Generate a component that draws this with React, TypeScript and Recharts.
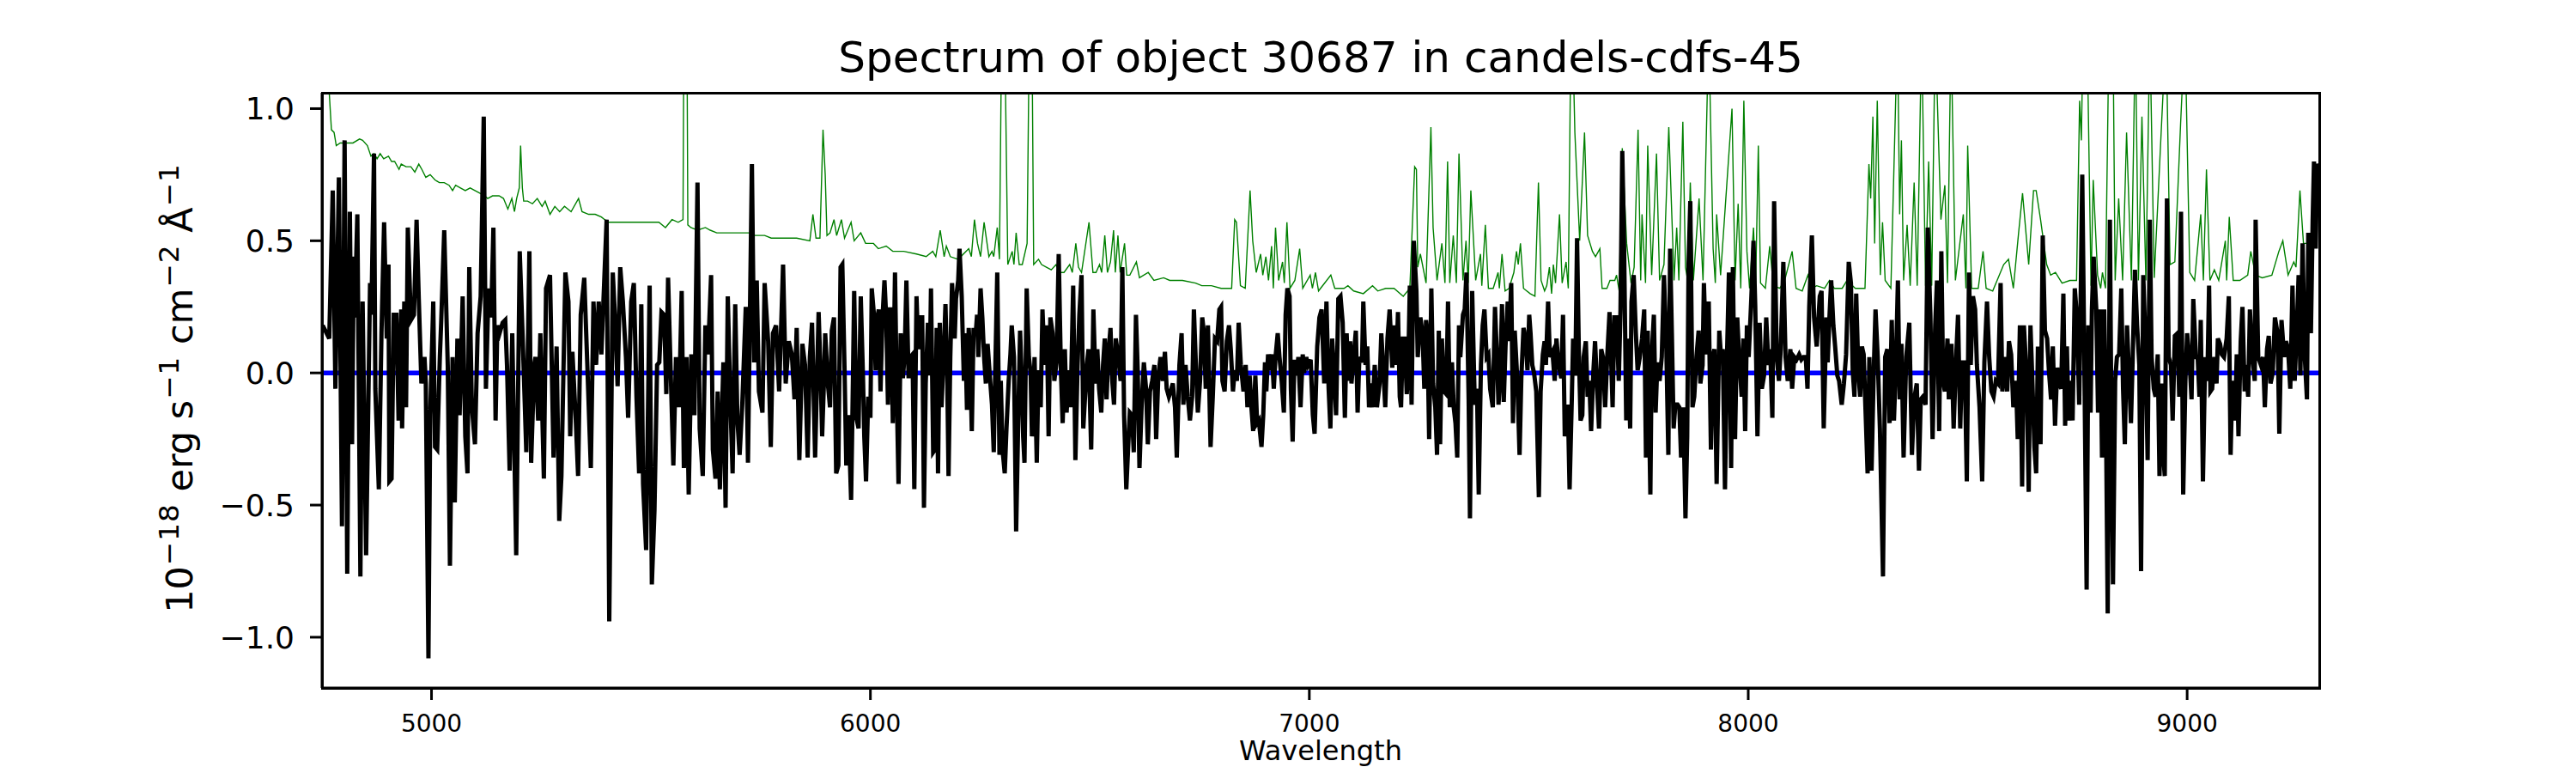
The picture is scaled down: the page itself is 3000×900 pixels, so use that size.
import React from "react";
import { LineChart, Line, XAxis, YAxis, ReferenceLine } from "recharts";

type Pt = [number, number];

// object flux, 10^-18 erg/s/cm2/A, [wavelength, value] in four stretches
const flux4750: Pt[] = [
  [4752,0.18],[4767,0.13],[4775,0.69],[4781,-0.06],[4789,0.74],[4796,-0.58],[4802,0.88],[4808,-0.76],[4814,0.61],[4819,-0.27],
  [4823,0.44],[4825,0.21],[4831,0.6],[4838,-0.77],[4843,0.27],[4851,-0.69],[4860,0.34],[4863,0.22],[4869,0.83],[4872,-0.06],
  [4880,-0.44],[4886,0.15],[4892,0.57],[4898,0.13],[4902,0.41],[4904,-0.41],[4909,-0.4],[4914,0.22],[4920,0.22],[4925,-0.18],
  [4931,0.24],[4933,-0.21],[4938,0.27],[4942,-0.13],[4946,0.55],[4953,0.2],[4960,0.22],[4966,0.58],[4971,0.28],[4977,-0.04],
  [4984,0.06],[4987,-0.04],[4993,-1.08],[4997,-0.16],[5004,0.27],[5008,-0.28],[5013,-0.29],[5019,0.06],[5022,0.19],[5029,0.54],
  [5037,0.03],[5042,-0.73],[5048,0.06],[5053,-0.49],[5059,0.13],[5064,-0.16],[5071,0.29],[5077,-0.24],[5082,-0.38],[5086,0.4],
  [5092,-0.13],[5099,-0.27],[5105,0.15],[5112,0.29],[5119,0.97],[5124,-0.06],[5130,0.32],[5136,0.21],[5141,0.55],[5146,-0.18],
  [5150,0.18],[5155,0.15],[5162,0.19],[5168,0.2],[5172,0.03],[5178,-0.37],[5184,0.15],[5193,-0.69],[5201,0.46],[5208,0.12],
  [5216,-0.3],[5223,0.46],[5227,-0.34],[5234,0.03],[5237,0.06],[5243,-0.18],[5248,0.15],[5256,-0.4],[5261,0.32],[5270,0.37],
  [5278,-0.32],[5285,0.1],[5291,-0.56],[5296,-0.39],[5305,0.38],[5312,0.27],[5316,-0.24],[5321,0.08],[5329,-0.19],[5334,-0.39],
  [5340,0.22],[5348,0.36],[5355,0.03],[5363,-0.36],[5369,0.27],[5375,0.03],[5381,0.27],[5387,0.07],[5399,0.58],[5405,-0.94],
  [5413,0.38],[5419,0.18],[5424,-0.05],[5430,0.4],[5436,0.27],[5443,0.06],[5448,-0.17],[5455,0.27],[5461,0.34],[5467,-0.09],
  [5473,-0.38],[5478,0.26],[5482,-0.42],[5489,-0.67],[5497,0.33],[5502,-0.8],[5508,-0.52],[5514,0.03],[5519,0.04],[5524,0.23],
  [5530,0.22],[5535,-0.08],[5539,0.36],[5544,0.06],[5551,-0.35],[5557,0.06],[5564,-0.13],[5570,0.31],[5575,-0.36],[5581,0.06],
  [5586,-0.46],[5592,0.07],[5599,-0.16],[5606,0.72],[5611,-0.21],[5618,-0.39],[5624,0.18],[5630,0.07],[5637,0.37],[5641,-0.29],
  [5647,-0.4],[5652,-0.07],[5657,-0.44],[5665,0.04],[5670,-0.51],[5675,0.29],[5681,-0.11],[5686,-0.38],[5692,0.26],[5697,-0.18],
  [5702,-0.31],[5708,-0.12],[5716,0.25],[5721,-0.34],[5730,0.79],[5735,0.04],[5741,0.35],[5746,-0.07],[5754,-0.15],[5759,0.34],
  [5767,0.12],[5773,-0.28],[5778,0.15],[5785,0.18],[5792,-0.07],[5801,0.41],[5807,-0.04],[5814,0.12],[5821,0.07],[5827,-0.1],
  [5832,0.17],[5838,-0.33],[5845,0.11],[5851,0.03],[5857,-0.32],[5862,0.06],[5867,0.19],[5874,-0.32],[5882,0.23],
];

const flux5890: Pt[] = [
  [5887,-0.03],[5890,-0.24],[5894,-0.04],[5897,0.15],[5903,-0.04],[5908,-0.13],[5912,0.16],[5917,0.21],[5922,-0.38],[5927,-0.35],
  [5932,0.4],[5936,0.41],[5941,0.02],[5945,-0.35],[5950,-0.16],[5956,-0.48],[5959,-0.16],[5963,0.31],[5968,-0.17],[5973,-0.21],
  [5978,0.29],[5983,-0.01],[5986,-0.24],[5990,-0.41],[5995,-0.09],[6000,-0.17],[6003,0.32],[6008,0.22],[6012,0.01],[6016,0.21],
  [6019,0.24],[6023,-0.07],[6027,0.19],[6032,0.35],[6036,0.21],[6040,-0.12],[6043,0.24],[6047,0.24],[6051,-0.19],[6056,0.38],
  [6060,-0.07],[6064,-0.42],[6069,0.15],[6074,-0.02],[6078,0.07],[6082,0.35],[6087,-0.02],[6091,0.06],[6096,0.07],[6100,-0.44],
  [6105,0.29],[6109,0.09],[6113,0.21],[6118,0.21],[6122,-0.51],[6126,-0.04],[6131,0.19],[6135,-0.01],[6138,0.32],[6143,-0.3],
  [6147,-0.29],[6151,0.17],[6154,-0.38],[6158,0.19],[6162,-0.13],[6167,0.07],[6171,0.26],[6175,-0.01],[6178,-0.39],[6182,0.06],
  [6186,0.34],[6192,0.13],[6195,0.28],[6200,0.35],[6203,0.47],[6208,0.29],[6213,-0.03],[6216,0.15],[6220,-0.14],[6224,0.17],
  [6227,0.07],[6231,-0.22],[6235,0.17],[6240,0.15],[6243,0.22],[6246,0.06],[6251,0.32],[6255,0.21],[6259,0.06],[6263,-0.04],
  [6267,0.11],[6272,-0.01],[6277,-0.12],[6281,-0.3],[6284,-0.03],[6289,0.38],[6294,-0.31],[6297,-0.03],[6301,-0.29],[6306,-0.38],
  [6310,-0.21],[6315,-0.03],[6319,0.07],[6322,0.18],[6327,0.06],[6332,-0.6],[6337,-0.16],[6341,0.16],[6345,-0.03],[6348,-0.24],
  [6351,-0.34],[6356,0.32],[6361,0.06],[6365,0],[6368,-0.24],[6374,0.06],[6379,-0.34],[6383,0.01],[6388,-0.13],[6392,0.24],
  [6397,0.03],[6402,0.18],[6406,-0.24],[6410,0.21],[6415,0.15],[6419,-0.03],[6424,0.04],[6429,0.45],[6434,0.01],[6438,-0.19],
  [6443,0.09],[6447,-0.15],[6452,0.01],[6456,-0.13],[6462,0.33],[6467,-0.33],[6472,0.03],[6476,0.22],[6481,0.37],[6485,-0.21],
  [6489,-0.09],[6493,0.03],[6497,0.09],[6503,-0.29],[6508,0.24],[6513,-0.04],[6517,0.09],[6521,-0.06],[6526,-0.15],[6530,0.03],
  [6534,0.13],[6538,-0.1],[6542,0.07],[6547,0.17],[6551,-0.03],[6555,-0.12],[6559,0.13],[6565,0.06],[6570,-0.03],[6574,0.4],
  [6578,-0.16],[6583,-0.44],[6587,-0.29],[6591,-0.15],[6596,-0.16],[6600,-0.3],[6605,0.22],[6609,0.01],[6613,-0.36],[6618,-0.12],
  [6623,0.04],[6628,-0.06],[6632,-0.27],[6637,-0.07],[6642,-0.03],[6647,0.03],[6651,-0.25],[6656,-0.01],[6661,0.06],[6666,-0.03],
  [6671,0.08],[6675,-0.06],[6680,-0.09],[6684,-0.07],[6689,-0.04],[6694,-0.13],[6698,-0.32],[6704,0.03],[6709,0.15],[6713,-0.12],
  [6718,0.03],[6723,-0.09],[6728,-0.18],[6733,-0.09],[6737,0.24],[6742,0.01],[6746,-0.15],[6751,-0.03],[6756,0.21],[6760,0.15],
  [6764,-0.06],[6769,0.18],[6775,-0.28],[6780,-0.09],[6785,0.13],[6790,0.12],[6795,0.24],[6799,0.25],[6802,-0.03],[6807,-0.07],
  [6812,0.12],[6817,0.18],[6821,0.09],[6826,-0.07],[6830,0.01],[6835,-0.03],[6839,0.19],[6844,0.03],[6850,-0.07],[6855,0.03],
  [6859,-0.13],[6864,-0.01],[6868,-0.13],[6872,-0.22],[6877,-0.01],[6881,-0.19],[6885,-0.18],[6891,-0.28],[6895,-0.16],[6899,0.04],
  [6902,-0.07],[6906,0.07],[6910,0.01],[6915,0.07],[6919,-0.06],[6923,0.06],[6928,0.15],[6932,0.06],[6937,-0.03],[6942,-0.15],
  [6946,0.22],[6950,0.32],[6955,0.29],[6958,-0.06],[6962,-0.26],[6966,0.05],[6971,-0.01],[6975,0.06],[6980,-0.13],[6985,0.07],
  [6988,0],[6993,0.06],[6997,0.03],[7003,0.05],[7008,-0.16],[7012,-0.23],[7018,0.1],[7023,0.21],
];

const flux7030: Pt[] = [
  [7028,0.24],[7034,-0.04],[7039,0.27],[7044,-0.06],[7048,-0.21],[7052,0.13],[7056,0.01],[7061,-0.16],[7066,0.28],[7071,0.29],
  [7076,0.19],[7081,-0.17],[7085,0.15],[7089,-0.03],[7093,0.12],[7096,-0.04],[7101,0.06],[7106,0.16],[7110,-0.15],[7114,0.06],
  [7120,0.04],[7123,0.27],[7128,0.03],[7132,0.1],[7136,-0.13],[7140,-0.04],[7144,-0.13],[7149,0.03],[7154,-0.13],[7160,-0.04],
  [7164,0.15],[7168,0.03],[7173,-0.13],[7178,0.13],[7183,0.24],[7189,0.02],[7193,0.18],[7198,0.03],[7202,0.23],[7206,-0.09],
  [7209,-0.13],[7213,0.13],[7217,0.13],[7222,-0.08],[7225,0],[7229,0.33],[7233,-0.12],[7238,0.5],[7244,0.31],[7247,0.06],
  [7253,0.21],[7258,0.15],[7262,-0.06],[7266,0.2],[7269,0.15],[7273,-0.25],[7278,0.32],[7282,-0.04],[7287,-0.13],[7291,-0.31],
  [7295,0.16],[7298,-0.27],[7302,0.13],[7307,-0.07],[7312,-0.08],[7316,0.27],[7320,-0.13],[7325,0.04],[7329,-0.13],[7333,-0.19],
  [7337,-0.32],[7341,0.18],[7344,0.06],[7350,0.22],[7354,0.24],[7358,0.38],[7363,-0.1],[7366,-0.55],[7371,0.31],[7377,-0.12],
  [7382,-0.06],[7386,-0.46],[7391,0.03],[7395,0.18],[7399,0.24],[7404,0.06],[7408,0.07],[7412,-0.06],[7418,-0.13],[7423,0.25],
  [7428,0.04],[7431,-0.12],[7435,-0.01],[7439,0.26],[7443,-0.11],[7447,0.1],[7452,0.27],[7455,0.12],[7460,0.34],[7464,-0.19],
  [7468,0.16],[7474,-0.03],[7479,-0.31],[7483,-0.02],[7488,0.17],[7493,0.13],[7497,0.01],[7501,0.22],[7504,0.15],[7508,0.03],
  [7512,0],[7517,-0.07],[7523,-0.47],[7527,-0.07],[7532,0.07],[7536,0.12],[7539,0.03],[7544,0.27],[7548,0.06],[7554,0.08],
  [7559,-0.03],[7563,0.13],[7568,0.03],[7574,-0.02],[7578,0.22],[7582,-0.24],[7585,-0.19],[7589,-0.12],[7593,-0.44],[7598,-0.1],
  [7601,0.13],[7606,-0.01],[7610,0.51],[7614,0.09],[7618,-0.18],[7622,-0.16],[7625,0.06],[7630,0.12],[7634,-0.09],[7638,-0.03],
  [7642,-0.22],[7647,0],[7651,0.12],[7655,-0.03],[7660,-0.21],[7665,0.09],[7669,0.06],[7674,-0.13],[7679,0.07],[7684,0.23],
  [7688,0.03],[7691,-0.13],[7695,0.21],[7700,0.21],[7705,-0.03],[7709,0.24],[7713,0.84],[7717,0.5],[7722,-0.18],[7725,0.13],
  [7731,-0.21],[7734,0.27],[7739,0.37],[7744,0.15],[7748,0.01],[7753,0.06],[7758,0.13],[7763,0.24],[7767,-0.32],[7771,0.16],
  [7777,-0.46],[7780,0.06],[7785,0.22],[7789,-0.15],[7793,0.04],[7798,-0.03],[7803,0.06],[7808,0.37],[7813,0.13],[7818,-0.31],
  [7822,0.47],[7826,0.15],[7830,-0.21],[7834,-0.12],[7839,-0.12],[7843,-0.13],[7847,-0.32],[7852,-0.13],[7857,-0.55],[7861,-0.24],
  [7864,0.41],[7868,0.65],[7873,-0.13],[7877,-0.09],[7882,0.06],[7887,0.16],[7891,-0.04],[7896,0.03],[7899,0.34],[7904,0.07],
  [7910,0.27],[7915,-0.29],[7919,0.06],[7923,0.09],[7928,-0.42],[7934,0.16],[7938,0.06],[7942,0.09],[7947,-0.44],[7952,0.09],
  [7956,0.38],[7961,-0.36],[7965,0.4],[7970,-0.25],[7975,0.21],[7979,0.07],[7985,-0.09],[7989,0.13],[7993,-0.22],[7997,0.18],
  [8001,0.06],[8007,0.28],[8012,0.5],[8016,0.25],[8021,-0.24],[8026,0.19],[8031,-0.06],[8036,-0.01],[8041,0.21],[8046,0.03],
  [8050,0.09],[8055,-0.17],[8059,0.65],[8065,0.06],[8070,-0.03],[8074,0.09],[8080,0.42],[8085,0.06],[8090,-0.03],[8096,0.09],
  [8100,-0.06],[8105,0.06],[8110,0.05],[8116,0.07],[8121,0.05],[8126,0.06],[8131,0.06],[8135,-0.06],[8139,0.25],[8145,0.52],
  [8150,0.21],
];

const flux8160: Pt[] = [
  [8156,0.1],[8163,0.29],[8167,0.31],[8172,-0.21],[8178,0.21],[8181,0.04],[8185,0.21],[8189,0.35],[8194,0.18],[8198,0.1],
  [8203,-0.01],[8207,-0.03],[8213,-0.12],[8218,-0.04],[8223,0.07],[8229,0.42],[8234,0.34],[8238,0.01],[8242,-0.09],[8246,0.3],
  [8251,0],[8255,-0.09],[8259,0.1],[8263,0.07],[8267,-0.13],[8272,-0.38],[8276,0.06],[8281,-0.37],[8286,0.01],[8290,0.24],
  [8295,0.06],[8300,-0.21],[8307,-0.77],[8312,0.06],[8317,0.09],[8322,-0.19],[8327,0.2],[8332,-0.18],[8337,0.06],[8341,0.35],
  [8345,-0.1],[8349,0.11],[8354,-0.32],[8360,0.06],[8367,0.19],[8373,-0.31],[8378,-0.1],[8384,-0.04],[8389,-0.37],[8393,-0.1],
  [8398,-0.09],[8404,-0.12],[8409,0.55],[8415,0.22],[8420,-0.25],[8426,0.18],[8430,0.35],[8435,-0.22],[8440,0.46],[8444,-0.03],
  [8448,-0.07],[8454,0.13],[8457,-0.1],[8463,0.11],[8468,-0.21],[8473,0.03],[8478,0.22],[8483,-0.21],[8487,0.04],[8493,0.04],
  [8498,-0.41],[8503,0.38],[8507,0.03],[8512,0.29],[8517,0.24],[8521,0.03],[8527,-0.13],[8533,-0.41],[8538,0.04],[8544,0.27],
  [8549,0.06],[8554,-0.07],[8559,-0.09],[8564,-0.03],[8569,-0.04],[8575,0.34],[8579,-0.07],[8584,0.06],[8590,-0.07],[8594,0.12],
  [8599,0.07],[8604,-0.13],[8610,-0.03],[8614,-0.25],[8619,0.18],[8624,-0.43],[8628,0.18],[8634,0],[8639,-0.45],[8643,0.18],
  [8647,-0.01],[8652,-0.28],[8656,-0.38],[8660,0.1],[8666,-0.27],[8671,0.52],[8676,0.16],[8681,0.13],[8685,0.01],[8690,-0.1],
  [8694,0.1],[8699,-0.2],[8704,0.02],[8709,-0.04],[8713,-0.06],[8718,0.3],[8722,-0.2],[8726,0.1],[8730,-0.18],[8735,-0.03],
  [8739,-0.18],[8744,0.32],[8749,0.21],[8754,-0.12],[8758,0.35],[8761,0.75],[8766,0.01],[8771,-0.82],[8775,0.18],[8780,-0.15],
  [8783,0.24],[8787,0.44],[8793,0.24],[8797,-0.15],[8802,0.24],[8806,-0.32],[8811,0.24],[8815,-0.16],[8819,-0.91],[8824,0.58],
  [8827,-0.09],[8831,-0.8],[8836,-0.03],[8840,0.06],[8845,0.07],[8850,0.32],[8854,-0.06],[8858,-0.27],[8863,0.18],[8867,0.02],
  [8872,-0.19],[8876,0.06],[8881,0.39],[8886,0.18],[8891,0.03],[8895,-0.75],[8900,0.37],[8905,0.12],[8910,-0.33],[8915,0.58],
  [8919,0.06],[8924,-0.06],[8928,-0.09],[8933,0.07],[8937,-0.39],[8942,-0.04],[8944,-0.27],[8949,-0.39],[8954,0.66],[8958,0.06],
  [8963,0.03],[8967,-0.18],[8972,0.14],[8978,0.15],[8982,-0.09],[8986,0.61],[8991,-0.46],[8996,-0.03],[9000,0.15],[9006,0.03],
  [9010,-0.1],[9014,0.28],[9020,0.06],[9024,0.06],[9028,-0.09],[9031,0.2],[9036,-0.41],[9041,0.06],[9046,-0.03],[9050,0.33],
  [9053,-0.07],[9057,-0.06],[9062,0.06],[9067,-0.04],[9070,0.13],[9075,0.11],[9079,0.07],[9084,0.06],[9090,0.13],[9095,0.29],
  [9099,-0.31],[9103,-0.03],[9109,-0.18],[9113,0.07],[9117,-0.24],[9122,0.12],[9126,0.25],[9131,-0.07],[9134,0.03],[9139,-0.09],
  [9143,0.24],[9149,0.06],[9154,-0.03],[9156,0.58],[9162,0.06],[9168,0.03],[9173,0.06],[9177,-0.13],[9182,0.09],[9186,0.14],
  [9190,-0.04],[9195,0],[9200,0.21],[9206,0.15],[9210,-0.23],[9215,0.2],[9221,0.06],[9225,0.12],[9230,0.09],[9235,-0.06],
  [9240,0.33],[9245,-0.03],[9249,0.13],[9254,0.37],[9258,-0.01],[9263,0.49],[9268,0.06],[9273,-0.1],[9276,0.53],[9282,0.15],
  [9286,0.58],[9289,0.8],[9293,0.47],[9296,0.79],[9299,0.78],
];

// noise / sky spectrum (green), values above the frame are cut off by the axes
const sky4750: Pt[] = [
  [4752,1.25],[4767,1.06],[4772,0.92],[4778,0.91],[4783,0.86],[4792,0.87],[4803,0.87],[4810,0.87],[4821,0.87],[4836,0.885],
  [4843,0.88],[4854,0.86],[4862,0.82],[4869,0.83],[4876,0.81],[4883,0.83],[4891,0.81],[4902,0.82],[4909,0.8],[4916,0.8],
  [4926,0.77],[4931,0.79],[4942,0.78],[4953,0.78],[4962,0.76],[4971,0.79],[4978,0.77],[4987,0.74],[4997,0.75],[5008,0.73],
  [5018,0.72],[5029,0.72],[5040,0.71],[5048,0.69],[5055,0.71],[5066,0.7],[5077,0.69],[5088,0.7],[5099,0.69],[5110,0.68],
  [5121,0.67],[5128,0.66],[5139,0.67],[5154,0.67],[5164,0.66],[5174,0.62],[5183,0.66],[5189,0.61],[5194,0.66],[5200,0.7],
  [5203,0.86],[5207,0.7],[5210,0.65],[5219,0.65],[5230,0.64],[5241,0.66],[5252,0.63],[5259,0.65],[5270,0.6],[5281,0.63],
  [5292,0.61],[5303,0.63],[5318,0.61],[5335,0.66],[5343,0.61],[5358,0.6],[5373,0.6],[5387,0.59],[5402,0.57],[5416,0.57],
  [5431,0.57],[5445,0.57],[5460,0.57],[5475,0.57],[5489,0.57],[5504,0.57],[5518,0.57],[5533,0.55],[5548,0.58],[5562,0.57],
  [5573,0.58],[5575,1.3],[5582,1.3],[5584,0.56],[5591,0.55],[5606,0.54],[5624,0.55],[5635,0.54],[5650,0.53],[5664,0.53],
  [5679,0.53],[5701,0.53],[5723,0.53],[5737,0.52],[5759,0.52],[5774,0.51],[5789,0.51],[5810,0.51],[5832,0.51],[5862,0.5],
  [5869,0.6],[5876,0.51],[5885,0.51],
];

const sky5890: Pt[] = [
  [5892,0.92],[5897,0.75],[5901,0.52],[5908,0.53],[5917,0.58],[5923,0.52],[5934,0.58],[5941,0.51],[5956,0.57],[5963,0.5],
  [5978,0.53],[5989,0.49],[6000,0.49],[6007,0.49],[6018,0.47],[6036,0.48],[6051,0.46],[6076,0.46],[6105,0.45],[6127,0.44],
  [6142,0.46],[6149,0.44],[6159,0.54],[6168,0.44],[6173,0.48],[6182,0.44],[6200,0.43],[6224,0.47],[6230,0.44],[6237,0.58],
  [6244,0.49],[6251,0.44],[6259,0.57],[6270,0.44],[6277,0.46],[6281,0.44],[6289,0.55],[6294,0.43],[6299,1.3],[6306,1.3],
  [6313,0.41],[6323,0.46],[6327,0.41],[6332,0.53],[6339,0.41],[6346,0.41],[6357,0.49],[6362,1.3],[6368,1.3],[6372,0.41],
  [6383,0.43],[6390,0.41],[6401,0.4],[6412,0.39],[6423,0.41],[6430,0.38],[6441,0.38],[6454,0.41],[6460,0.38],[6468,0.49],
  [6474,0.4],[6481,0.38],[6498,0.57],[6507,0.38],[6514,0.38],[6522,0.41],[6527,0.38],[6534,0.52],[6540,0.38],[6547,0.42],
  [6554,0.54],[6558,0.38],[6564,0.52],[6569,0.38],[6579,0.49],[6584,0.37],[6591,0.37],[6606,0.42],[6613,0.36],[6633,0.38],
  [6646,0.35],[6668,0.36],[6682,0.35],[6711,0.35],[6741,0.34],[6755,0.33],[6777,0.33],[6799,0.32],[6823,0.32],[6830,0.58],
  [6834,0.57],[6843,0.33],[6854,0.32],[6865,0.69],[6871,0.5],[6879,0.38],[6889,0.45],[6894,0.37],[6901,0.44],[6907,0.35],
  [6914,0.48],[6918,0.32],[6923,0.55],[6930,0.35],[6939,0.42],[6943,0.34],[6949,0.57],[6956,0.32],[6967,0.35],[6978,0.47],
  [6985,0.32],[7002,0.37],[7007,0.32],[7014,0.38],
];

const sky7030: Pt[] = [
  [7021,0.31],[7049,0.37],[7058,0.32],[7079,0.32],[7088,0.33],[7101,0.31],[7123,0.3],[7144,0.33],[7156,0.31],[7174,0.32],
  [7193,0.32],[7214,0.29],[7229,0.32],[7240,0.78],[7244,0.77],[7247,0.4],[7253,0.45],[7266,0.34],[7277,0.93],[7282,0.55],
  [7291,0.35],[7302,0.49],[7309,0.34],[7315,0.8],[7320,0.34],[7328,0.52],[7335,0.34],[7341,0.83],[7350,0.35],[7357,0.5],
  [7362,0.34],[7368,0.69],[7379,0.35],[7390,0.45],[7393,0.33],[7401,0.56],[7408,0.32],[7419,0.32],[7430,0.38],[7433,0.32],
  [7439,0.45],[7446,0.31],[7455,0.32],[7466,0.38],[7472,0.46],[7476,0.41],[7481,0.49],[7488,0.32],[7503,0.3],[7514,0.29],
  [7522,0.72],[7528,0.35],[7536,0.31],[7541,0.33],[7547,0.4],[7552,0.3],[7556,0.41],[7561,0.34],[7570,0.6],[7576,0.34],
  [7585,0.42],[7590,0.32],[7596,1.3],[7601,1.2],[7605,0.91],[7616,0.5],[7627,0.91],[7634,0.52],[7645,0.46],[7652,0.44],
  [7662,0.47],[7667,0.32],[7678,0.32],[7685,0.35],[7696,0.35],[7700,0.37],[7706,0.31],[7713,0.85],[7723,0.49],[7733,0.34],
  [7740,0.4],[7749,0.92],[7755,0.35],[7758,0.6],[7766,0.34],[7771,0.86],[7780,0.37],[7791,0.83],[7798,0.35],[7808,0.41],
  [7819,0.93],[7831,0.35],[7837,0.55],[7842,0.35],[7851,0.95],[7857,0.4],[7862,0.35],[7868,0.72],[7875,0.35],[7888,0.66],
  [7897,0.35],[7910,1.3],[7920,0.47],[7925,0.34],[7928,0.6],[7937,0.37],[7963,1.0],[7970,0.35],[7977,0.64],[7983,0.32],
  [7990,1.03],[7997,0.46],[8003,0.32],[8012,0.55],[8017,0.34],[8023,0.86],[8028,0.34],[8039,0.32],[8049,0.48],[8057,0.33],
  [8072,0.32],[8083,0.35],[8100,0.46],[8109,0.32],[8123,0.31],[8136,0.37],[8145,0.32],
];

const sky8160: Pt[] = [
  [8156,0.33],[8174,0.32],[8185,0.35],[8196,0.32],[8214,0.32],[8225,0.35],[8244,0.32],[8266,0.32],[8275,0.79],[8279,0.66],
  [8284,0.97],[8288,0.49],[8294,1.03],[8301,0.37],[8306,0.57],[8312,0.35],[8325,0.32],[8340,1.3],[8345,0.6],[8349,0.88],
  [8354,0.35],[8362,0.56],[8369,0.33],[8378,0.72],[8385,0.33],[8395,1.3],[8404,0.33],[8411,0.8],[8418,0.33],[8426,1.3],
  [8439,0.58],[8448,0.71],[8454,0.34],[8462,1.3],[8472,0.35],[8490,0.6],[8496,0.32],[8500,0.86],[8509,0.32],[8524,0.32],
  [8535,0.46],[8542,0.32],[8557,0.31],[8582,0.41],[8593,0.43],[8604,0.32],[8616,0.53],[8625,0.68],[8639,0.41],[8650,0.69],
  [8656,0.69],[8666,0.58],[8680,0.41],[8689,0.37],[8700,0.38],[8715,0.34],[8733,0.35],[8748,0.35],[8755,1.03],[8759,0.88],
  [8763,1.3],[8772,1.3],[8781,0.33],[8786,0.73],[8796,0.37],[8803,0.32],[8807,0.38],[8814,0.32],[8822,1.3],[8831,1.3],
  [8836,0.35],[8844,0.66],[8853,0.35],[8862,0.91],[8873,0.35],[8882,1.3],[8889,0.35],[8897,0.97],[8906,0.35],[8915,1.3],
  [8925,0.36],[8952,1.3],[8961,0.41],[8972,0.42],[8985,0.94],[8995,1.3],[9006,0.38],[9017,0.35],[9031,0.6],[9037,0.35],
  [9044,0.77],[9052,0.35],[9062,0.39],[9072,0.35],[9087,0.5],[9090,0.35],[9096,0.59],[9105,0.35],[9120,0.35],[9138,0.37],
  [9145,0.46],[9156,0.37],[9171,0.36],[9193,0.37],[9209,0.46],[9218,0.5],[9230,0.37],[9243,0.42],[9248,0.4],[9257,0.69],
  [9265,0.49],[9296,0.49],
];

const xTicks = [5000, 6000, 7000, 8000, 9000];
const yTicks = [-1, -0.5, 0, 0.5, 1];
const xDomain: [number, number] = [4750.5, 9301];
const yDomain: [number, number] = [-1.192, 1.06];

const rows = (pts: Pt[]) => pts.map(([w, f]) => ({ w, f }));
const spectrum = rows([...flux4750, ...flux5890, ...flux7030, ...flux8160]);
const sky = rows([...sky4750, ...sky5890, ...sky7030, ...sky8160]);

const fmtY = (v: number) => v.toFixed(1).replace("-", "\u2212");

const FONT = "'DejaVu Sans', sans-serif";
const frame = { stroke: "#000", strokeWidth: 3 };
const sup = { fontSize: "0.76em", verticalAlign: "16px", lineHeight: 0, letterSpacing: "0.03em", marginLeft: 1 };

export default function App() {
  return (
    <div style={{ position: "relative", width: 3000, height: 900, background: "#fff", fontFamily: FONT }}>
      <style>{`body{margin:0}`}</style>
      <LineChart width={3000} height={900} margin={{ top: 108, right: 299, bottom: 0, left: 0 }}>
        <XAxis
          type="number"
          dataKey="w"
          domain={xDomain}
          allowDataOverflow
          ticks={xTicks}
          interval={0}
          height={99}
          tickSize={14}
          tickMargin={17}
          axisLine={frame}
          tickLine={frame}
          tick={{ fill: "#000", fontSize: 28, fontFamily: FONT }}
        />
        <YAxis
          type="number"
          domain={yDomain}
          allowDataOverflow
          ticks={yTicks}
          interval={0}
          tickFormatter={fmtY}
          width={375}
          tickSize={14}
          tickMargin={18}
          axisLine={frame}
          tickLine={frame}
          tick={{ fill: "#000", fontSize: 36, fontFamily: FONT }}
        />
        <Line
          data={sky}
          dataKey="f"
          type="linear"
          stroke="#008000"
          strokeWidth={1.4}
          dot={false}
          activeDot={false}
          isAnimationActive={false}
        />
        <ReferenceLine y={0} stroke="#0000ff" strokeWidth={5.5} />
        <Line
          data={spectrum}
          dataKey="f"
          type="linear"
          stroke="#000"
          strokeWidth={5}
          dot={false}
          activeDot={false}
          isAnimationActive={false}
        />
      </LineChart>

      {/* axes frame, matplotlib draws all four spines */}
      <div
        style={{
          position: "absolute",
          left: 373.5,
          top: 106.5,
          width: 2329,
          height: 696,
          border: "3px solid #000",
          boxSizing: "border-box",
          pointerEvents: "none",
        }}
      />

      <div style={{ position: "absolute", left: 1538, top: 42, transform: "translateX(-50%)", fontSize: 50, lineHeight: "50px", whiteSpace: "nowrap" }}>
        Spectrum of object 30687 in candels-cdfs-45
      </div>
      <div style={{ position: "absolute", left: 1538, top: 858, transform: "translateX(-50%)", fontSize: 32, lineHeight: "32px", whiteSpace: "nowrap" }}>
        Wavelength
      </div>
      <div
        style={{
          position: "absolute",
          left: 209,
          top: 452,
          transform: "translate(-50%, -50%) rotate(-90deg)",
          fontSize: 43,
          lineHeight: "43px",
          whiteSpace: "nowrap",
        }}
      >
        10<span style={sup}>{"\u221218"}</span> erg s<span style={sup}>{"\u22121"}</span> cm<span style={sup}>{"\u22122"}</span> Å<span style={sup}>{"\u22121"}</span>
      </div>
    </div>
  );
}
